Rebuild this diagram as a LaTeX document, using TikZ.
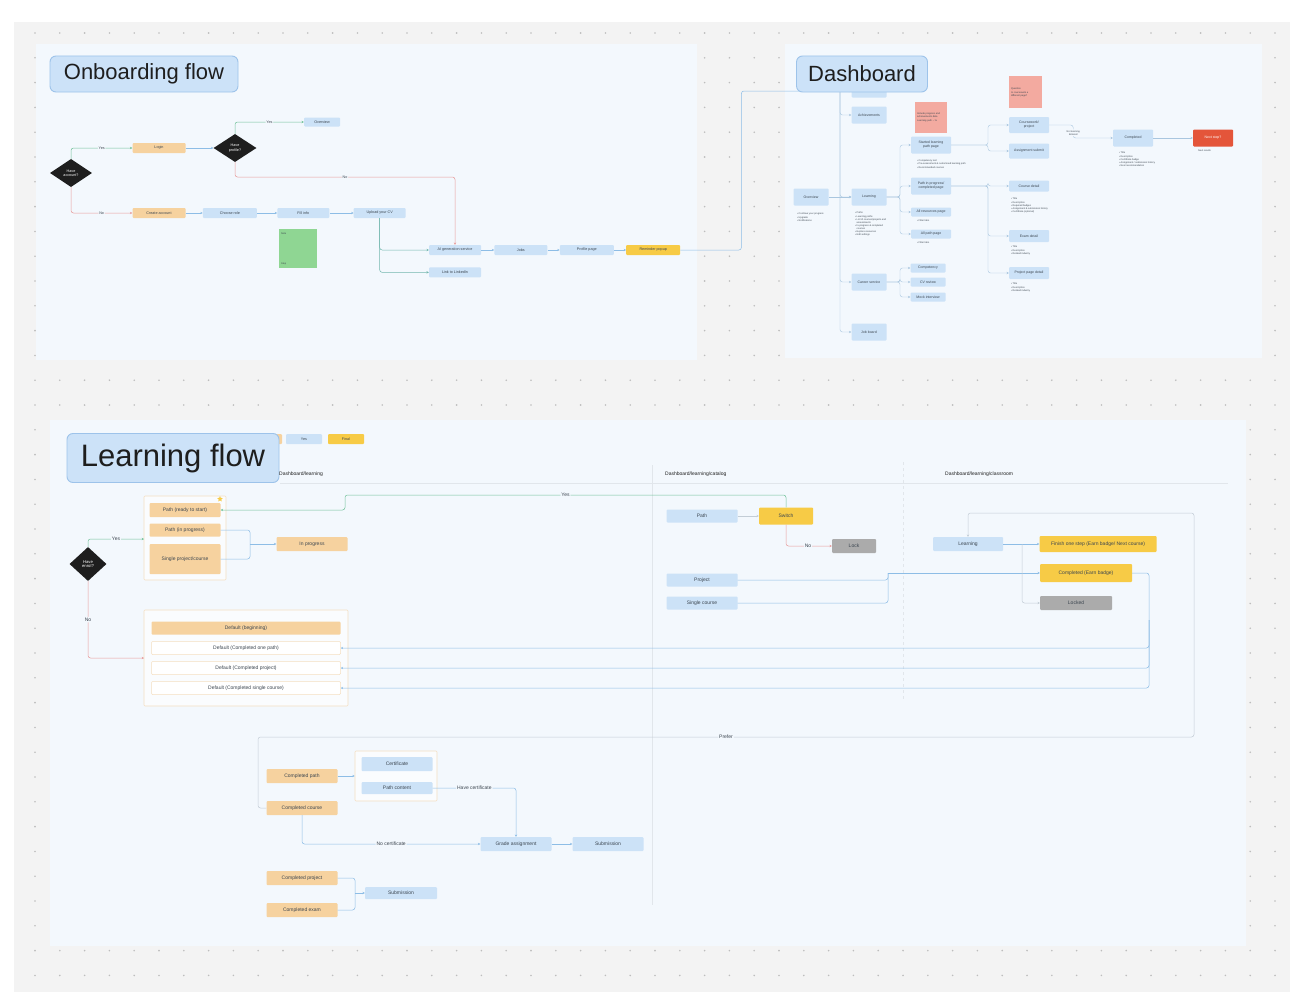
\documentclass[tikz,border=0pt]{standalone}
\usepackage{fontspec}
\setmainfont{Liberation Sans}
\usepackage{xcolor}
\usepackage{tikz}
\usetikzlibrary{arrows.meta,positioning,shapes.geometric}
\definecolor{lfCanvas}{HTML}{F3F3F3}
\definecolor{lfDot}{HTML}{BDBDBD}
\definecolor{lfPanel}{HTML}{F3F8FD}
\definecolor{lfTitle}{HTML}{CCE2F8}
\definecolor{lfTitleEdge}{HTML}{9DC3EA}
\definecolor{lfBlue}{HTML}{CCE2F7}
\definecolor{lfOrange}{HTML}{F6D29F}
\definecolor{lfGold}{HTML}{F7CB46}
\definecolor{lfGrey}{HTML}{ABABAB}
\definecolor{lfAlert}{HTML}{E4553A}
\definecolor{lfPink}{HTML}{F3AAA0}
\definecolor{lfMint}{HTML}{8FD693}
\definecolor{lfFrame}{HTML}{F4DFC2}
\definecolor{lfLine}{HTML}{8DBDE6}
\definecolor{lfTree}{HTML}{A9C6DF}
\definecolor{lfTeal}{HTML}{72B7AE}
\definecolor{lfGreen}{HTML}{72C29A}
\definecolor{lfRed}{HTML}{E89C9C}
\definecolor{lfSoft}{HTML}{C3CDD6}
\definecolor{lfRule}{HTML}{E1E6EB}
\definecolor{lfInk}{HTML}{1E1E1E}
\definecolor{lfText}{HTML}{3C4650}
\newcommand\obfont{\fontsize{3.7}{4.3}\selectfont}
\newcommand\dbfont{\fontsize{3.5}{4.1}\selectfont}
\newcommand\lffont{\fontsize{5}{6}\selectfont}
\newcommand\notefont{\fontsize{2.4}{3.1}\selectfont}
\tikzset{
  section title/.style={draw=lfTitleEdge,fill=lfTitle,line width=0.9pt,rounded corners=6pt,inner sep=0pt,text=lfInk},
  step box/.style={rounded corners=1pt,inner sep=0pt,align=center,text=lfText,font=\obfont,minimum height=10pt},
  blue step/.style={step box,fill=lfBlue},
  orange step/.style={step box,fill=lfOrange},
  gold step/.style={step box,fill=lfGold},
  grey step/.style={step box,fill=lfGrey},
  outline step/.style={step box,fill=white,draw=lfFrame,line width=0.5pt},
  dash step/.style={blue step,font=\dbfont,minimum width=35pt,minimum height=17pt},
  learn step/.style={font=\lffont,minimum height=14pt,minimum width=71pt},
  decision/.style={diamond,fill=lfInk,text=white,inner sep=0pt,align=center,font=\obfont},
  group frame/.style={draw=lfFrame,fill=white!60!lfPanel,line width=0.6pt,rounded corners=1pt,inner sep=0pt},
  sticky/.style={anchor=north west,inner sep=2pt,align=left,font=\notefont,text=lfText},
  bullet note/.style={anchor=north west,inner sep=0pt,align=left,font=\notefont,text=lfText},
  column head/.style={anchor=west,inner sep=0pt,font=\lffont,text=lfInk},
  edge label/.style={fill=lfPanel,inner sep=1pt,font=\obfont,text=lfText},
  flow arrow/.style={-{Stealth[length=2.3pt,width=2.3pt]},line width=0.5pt,draw=lfLine,rounded corners=2.5pt},
  flow line/.style={flow arrow,-},
  yes arrow/.style={flow arrow,draw=lfGreen},
  no arrow/.style={flow arrow,draw=lfRed},
  teal arrow/.style={flow arrow,draw=lfTeal},
  grey arrow/.style={flow arrow,draw=lfSoft},
  tree arrow/.style={flow arrow,draw=lfTree,line width=0.4pt},
  divider/.style={draw=lfRule,line width=0.5pt}
}

\begin{document}
\begin{tikzpicture}[x=1pt,y=-1pt]
\useasboundingbox (0,0) rectangle (1296,998);
% canvas and dot grid
\fill[white] (0,0) rectangle (1296,998);
\fill[lfCanvas] (14,22) rectangle (1290,992);
\foreach \i in {0,...,50}
  \foreach \j in {0,...,38}
    \fill[lfDot] (35+24.8*\i,33+24.8*\j) circle (0.9);
\fill[lfPanel] (36,44) rectangle (697,360);
\fill[lfPanel] (785,44) rectangle (1262,358);
\fill[lfPanel] (50,420) rectangle (1246,946);

% ---------------- onboarding flow
\node[decision,minimum width=42pt,minimum height=28pt] (hasAcct) at (71,173) {Have\\account?};
\node[orange step,minimum width=53pt] (login) at (159,148) {Login};
\node[decision,minimum width=43pt,minimum height=28pt] (hasProf) at (235,148) {Have\\profile?};
\node[blue step,minimum width=36pt,minimum height=9pt] (obOverview) at (322,122) {Overview};
\node[orange step,minimum width=53pt] (newAcct) at (159,213) {Create account};
\node[blue step,minimum width=54pt,right=17pt of newAcct] (role) {Choose role};
\node[blue step,minimum width=52pt,right=20pt of role] (info) {Fill info};
\node[blue step,minimum width=52pt,right=24pt of info] (cv) {Upload your CV};
\node[blue step,minimum width=52pt] (aiGen) at (455,250) {AI generation service};
\node[blue step,minimum width=52pt,below=12pt of aiGen] (linkedin) {Link to LinkedIn};
\node[blue step,minimum width=53pt,right=13pt of aiGen] (jobs) {Jobs};
\node[blue step,minimum width=54pt,right=12pt of jobs] (profile) {Profile page};
\node[gold step,minimum width=54pt,right=12pt of profile] (remind) {Reminder popup};
\node[sticky,fill=lfMint,minimum width=38pt,minimum height=39pt,text width=34pt] (obNote) at (279,229) {Note\\[27pt]Step};
\coordinate (noTurn) at (455,177);

\draw[yes arrow] (hasAcct.north) |- node[edge label,pos=0.75]{Yes} (login.west);
\draw[flow arrow] (login) -- (hasProf);
\draw[yes arrow] (hasProf.north) |- node[edge label,pos=0.75]{Yes} (obOverview.west);
\draw[no arrow] (hasProf.south) |- node[edge label,pos=0.75]{No} (noTurn) -- (aiGen.north);
\draw[no arrow] (hasAcct.south) |- node[edge label,pos=0.75]{No} (newAcct.west);
\draw[flow arrow] (newAcct) -- (role);
\draw[flow arrow] (role) -- (info);
\draw[flow arrow] (info) -- (cv);
\draw[teal arrow] (cv.south) |- (aiGen.west);
\draw[teal arrow] (cv.south) |- (linkedin.west);
\draw[flow arrow] (aiGen) -- (jobs);
\draw[flow arrow] (jobs) -- (profile);
\draw[flow arrow] (profile) -- (remind);

% ---------------- dashboard
\node[dash step,minimum height=13pt] (dashTop) at (869,91) {};
\draw[flow arrow] (remind.east) -- ++(61,0) |- (dashTop.west);
\node[dash step] (achieve) at (869,115) {Achievements};
\node[dash step] (ovw) at (811,197) {Overview};
\node[dash step] (learn) at (869,197) {Learning};
\node[dash step] (career) at (869,282) {Career service};
\node[dash step] (jobBoard) at (869,332) {Job board};
\node[dash step,minimum width=40pt] (started) at (931,145) {Started learning\\path page};
\node[dash step,minimum width=40pt] (inPath) at (931,186) {Path in progress/\\completed page};
\node[dash step,minimum width=40pt,minimum height=9pt] (allRes) at (931,212) {All resources page};
\node[dash step,minimum width=40pt,minimum height=9pt] (allPath) at (931,234) {All path page};
\node[dash step,minimum height=9pt] (compet) at (928,268) {Competency};
\node[dash step,minimum height=9pt] (cvReview) at (928,282) {CV review};
\node[dash step,minimum height=9pt] (mock) at (928,297) {Mock interview};
\node[dash step,minimum width=40pt,minimum height=16pt] (coursework) at (1029,125) {Coursework/\\project};
\node[dash step,minimum width=40pt,minimum height=15pt] (submit) at (1029,151) {Assignment submit};
\node[dash step,minimum width=40pt,minimum height=11pt] (courseInfo) at (1029,186) {Course detail};
\node[dash step,minimum width=40pt,minimum height=12pt] (examInfo) at (1029,236) {Exam detail};
\node[dash step,minimum width=40pt,minimum height=12pt] (projInfo) at (1029,273) {Project page detail};
\node[dash step,minimum width=40pt] (completed) at (1133,138) {Completed};
\node[dash step,minimum width=40pt,fill=lfAlert,text=white] (nextStep) at (1213,138) {Next step?};
\node[sticky,fill=lfPink,minimum width=32pt,minimum height=31pt,text width=28pt] (pinkA) at (915,102) {Include progress and\\achievements data\\[1pt]Learning path -- \%\\[12pt]};
\node[sticky,fill=lfPink,minimum width=33pt,minimum height=32pt,text width=29pt] (pinkB) at (1009,76) {Question\\[1pt]Is coursework a\\different page?\\[12pt]};

\node[bullet note] (ovwList) at (797,213) {• Continue your progress\\• Upgrade\\• Notifications};
\node[bullet note] (learnList) at (855,212) {• Paths\\• Learning paths\\• List of courses/projects and\\\phantom{• }assessments\\• In-progress \& completed\\\phantom{• }courses\\• Explore resources\\• Edit settings};
\node[bullet note] (startList) at (917,160) {• Competency test\\• Pre-assessment \& customised learning path\\• Recommended courses};
\node[bullet note] (resList) at (917,220) {• Filter tabs};
\node[bullet note] (pathList) at (917,242) {• Filter tabs};
\node[bullet note] (courseList) at (1011,198) {• Title\\• Description\\• Required badges\\• Assignment \& submission history\\• Certificate (optional)};
\node[bullet note] (examList) at (1011,246) {• Title\\• Description\\• Related industry};
\node[bullet note] (projList) at (1011,283) {• Title\\• Description\\• Related industry};
\node[bullet note] (doneList) at (1119,152) {• Title\\• Description\\• Certificate badge\\• Assignment / submission history\\• Next recommendation};
\node[bullet note] (nextNote) at (1198,150) {Next results};

\coordinate (trunk) at (840,92);
\foreach \t in {achieve,learn,career,jobBoard}
  \draw[tree arrow] (trunk) |- (\t.west);
\draw[tree arrow] (ovw) -- (learn);
\coordinate (learnFork) at (900,197);
\foreach \t in {started,inPath,allRes,allPath}
  \draw[tree arrow] (learn.east) -- (learnFork) |- (\t.west);
\coordinate (careerFork) at (900,282);
\foreach \t in {compet,cvReview,mock}
  \draw[tree arrow] (career.east) -- (careerFork) |- (\t.west);
\coordinate (startFork) at (988,145);
\foreach \t in {coursework,submit}
  \draw[tree arrow] (started.east) -- (startFork) |- (\t.west);
\coordinate (pathFork) at (988,186);
\foreach \t in {courseInfo,examInfo,projInfo}
  \draw[tree arrow] (inPath.east) -- (pathFork) |- (\t.west);
\draw[tree arrow] (coursework.east) -- ++(24,0) |- node[edge label,font=\notefont,pos=0.3,align=center]{Not learning\\Entered} (completed.west);
\draw[tree arrow] (completed) -- (nextStep);

\node[section title,font=\fontsize{22}{24}\selectfont,minimum width=188pt,minimum height=36pt] (obTitle) at (144,74) {Onboarding flow};
\node[section title,font=\fontsize{22}{24}\selectfont,minimum width=131pt,minimum height=36pt] (dbTitle) at (862,74) {Dashboard};

% ---------------- learning flow
\node[orange step,minimum width=42pt] (keyStart) at (261,439) {};
\node[section title,font=\fontsize{31}{34}\selectfont,minimum width=212pt,minimum height=49pt] (lfTitle) at (173,458) {Learning flow};
\node[blue step,minimum width=36pt] (keyYes) at (304,439) {Yes};
\node[gold step,minimum width=36pt] (keyFinal) at (346,439) {Final};

\node[column head] (headDash) at (279,474) {Dashboard/learning};
\node[column head] (headCat) at (665,474) {Dashboard/learning/catalog};
\node[column head] (headRoom) at (945,474) {Dashboard/learning/classroom};
\draw[divider] (280,483) -- (1228,483);
\draw[divider] (652,465) -- (652,905);
\draw[divider,dashed] (903,462) -- (903,700);

\node[group frame,minimum width=82pt,minimum height=84pt] (frameA) at (185,538) {};
\node[group frame,minimum width=204pt,minimum height=96pt] (frameB) at (246,658) {};
\node[group frame,minimum width=82pt,minimum height=50pt] (frameC) at (396,776) {};

\node[decision,font=\fontsize{4.2}{4.8}\selectfont,minimum width=37pt,minimum height=34pt] (enrol) at (88,564) {Have\\enrol?};
\node[orange step,learn step,minimum height=14pt] (ready) at (185,510) {Path (ready to start)};
\node[orange step,learn step,minimum height=13pt] (pathProg) at (185,530) {Path (in progress)};
\node[orange step,learn step,minimum height=30pt] (single) at (185,559) {Single project/course};
\node[star,star points=5,star point ratio=2.2,fill=lfGold,inner sep=0pt,minimum size=6pt] (readyStar) at (220,499) {};
\node[orange step,learn step] (progress) at (312,544) {In progress};
\node[orange step,learn step,minimum width=189pt,minimum height=13pt] (defStart) at (246,628) {Default (beginning)};
\node[outline step,learn step,minimum width=189pt,minimum height=13pt] (defPath) at (246,648) {Default (Completed one path)};
\node[outline step,learn step,minimum width=189pt,minimum height=13pt] (defProject) at (246,668) {Default (Completed project)};
\node[outline step,learn step,minimum width=189pt,minimum height=13pt] (defCourse) at (246,688) {Default (Completed single course)};

\node[blue step,learn step,minimum height=13pt] (catPath) at (702,516) {Path};
\node[gold step,learn step,minimum width=54pt,minimum height=17pt] (switch) at (786,516) {Switch};
\node[grey step,learn step,minimum width=44pt] (lock) at (854,546) {Lock};
\node[blue step,learn step,minimum height=13pt] (catProject) at (702,580) {Project};
\node[blue step,learn step,minimum height=13pt] (catCourse) at (702,603) {Single course};

\node[blue step,learn step,minimum width=70pt] (roomLearn) at (968,544) {Learning};
\node[gold step,learn step,minimum width=117pt,minimum height=16pt] (finishStep) at (1098,544) {Finish one step (Earn badge/ Next course)};
\node[gold step,learn step,minimum width=92pt,minimum height=18pt] (earned) at (1086,573) {Completed (Earn badge)};
\node[grey step,learn step,minimum width=72pt] (locked) at (1076,603) {Locked};

\node[orange step,learn step] (donePath) at (302,776) {Completed path};
\node[orange step,learn step] (doneCourse) at (302,808) {Completed course};
\node[blue step,learn step] (cert) at (397,764) {Certificate};
\node[blue step,learn step,minimum height=12pt] (pathContent) at (397,788) {Path content};
\node[blue step,learn step] (grade) at (516,844) {Grade assignment};
\node[blue step,learn step] (submitA) at (608,844) {Submission};
\node[orange step,learn step] (doneProject) at (302,878) {Completed project};
\node[orange step,learn step] (doneExam) at (302,910) {Completed exam};
\node[blue step,learn step,minimum width=72pt,minimum height=12pt] (submitB) at (401,893) {Submission};

\coordinate (yesIn) at (144,539);
\coordinate (noIn) at (144,658);
\draw[yes arrow] (enrol.north) |- node[edge label,font=\lffont,pos=0.75]{Yes} (yesIn);
\draw[no arrow] (enrol.south) |- node[edge label,font=\lffont,pos=0.25]{No} (noIn);
\coordinate (progJoin) at (250,544);
\draw[flow line] (pathProg.east) -| (progJoin);
\draw[flow line] (single.east) -| (progJoin);
\draw[flow arrow] (progJoin) -- (progress.west);

\coordinate (yesBend) at (345,495);
\draw[yes arrow] (switch.north) |- node[edge label,font=\lffont,pos=0.75]{Yes} (yesBend) |- (ready.east);
\draw[grey arrow] (catPath) -- (switch);
\draw[no arrow] (switch.south) |- node[edge label,font=\lffont,pos=0.74]{No} (lock.west);
\coordinate (doneJoin) at (888,573);
\draw[flow line] (catProject.east) -| (doneJoin);
\draw[flow line] (catCourse.east) -| (doneJoin);
\draw[flow arrow] (doneJoin) -- (earned.west);
\draw[flow arrow] (roomLearn) -- (finishStep);
\coordinate (lockFork) at (1022,544);
\draw[grey arrow] (lockFork) |- (locked.west);
\coordinate (backDrop) at (1149,620);
\draw[flow line] (earned.east) -| (backDrop);
\foreach \d in {defPath,defProject,defCourse}
  \draw[flow arrow] (backDrop) |- (\d.east);

\coordinate (loopLow) at (258,737);
\coordinate (loopHigh) at (1194,513);
\draw[grey arrow] (doneCourse.west) -| (loopLow) -| node[edge label,font=\lffont,pos=0.25]{Prefer} (loopHigh) -| (roomLearn.north);

\draw[flow arrow] (donePath) -- (frameC);
\draw[flow arrow] (pathContent.east) -| node[edge label,font=\lffont,pos=0.25]{Have certificate} (grade.north);
\draw[flow arrow] (doneCourse.south) |- node[edge label,font=\lffont,pos=0.75]{No certificate} (grade.west);
\draw[flow arrow] (grade) -- (submitA);
\coordinate (subJoin) at (355,893);
\draw[flow line] (doneProject.east) -| (subJoin);
\draw[flow line] (doneExam.east) -| (subJoin);
\draw[flow arrow] (subJoin) -- (submitB.west);
\end{tikzpicture}
\end{document}
